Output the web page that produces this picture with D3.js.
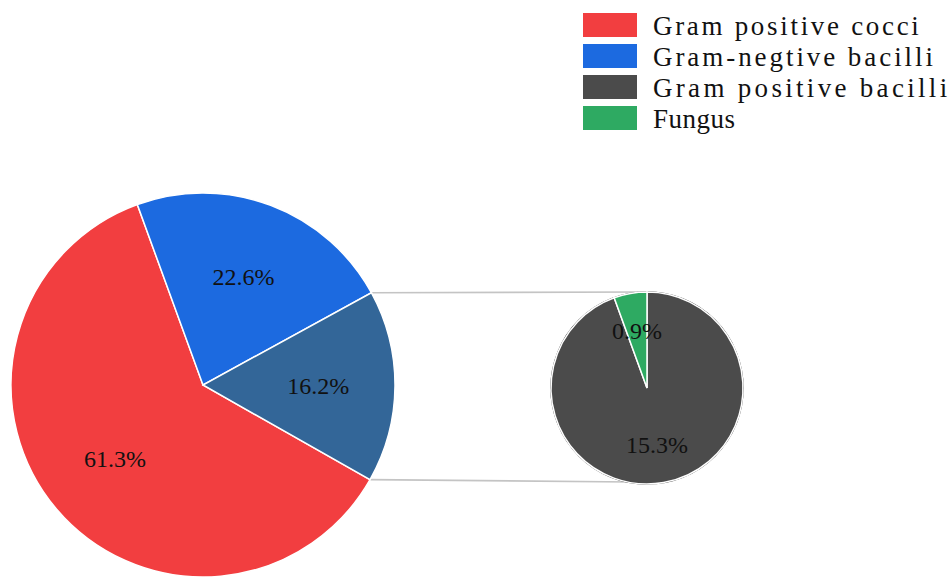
<!DOCTYPE html>
<html>
<head>
<meta charset="utf-8">
<script src="https://cdn.jsdelivr.net/npm/d3@7"></script>
<style>
  body { margin: 0; background: #fff; }
  svg { display: block; }
</style>
</head>
<body>
<script>
// main pie: categories + share (%)
var mainNames = ["Gram positive cocci", "Gram-negtive bacilli", "Gram positive bacilli"];
var mainValues = [61.3, 22.6, 16.2];
var mainColors = ["#f23e40", "#1c6ae0", "#336698"];

// breakdown of the 16.2% slice
var subNames = ["Gram positive bacilli", "Fungus"];
var subValues = [15.3, 0.9];
var subColors = ["#4b4b4b", "#2eaa62"];

// legend
var legendNames = ["Gram positive cocci", "Gram-negtive bacilli", "Gram positive bacilli", "Fungus"];
var legendColors = ["#f23e40", "#1c6ae0", "#4b4b4b", "#2eaa62"];

var width = 952, height = 577;
var deg = Math.PI / 180;
var fontFam = "Liberation Serif, Times New Roman, serif";

var svg = d3.select("body").append("svg")
    .attr("width", width)
    .attr("height", height);

// big pie
var R = 192;
var cx = 203, cy = 385;
var total = d3.sum(mainValues);
// red slice ends where blue starts, at -20deg
var start = -20 * deg - (mainValues[0] / total) * 2 * Math.PI;
var pie = d3.pie().sort(null).startAngle(start).endAngle(start + 2 * Math.PI);
var arc = d3.arc().innerRadius(0).outerRadius(R);
var labelArc = d3.arc().innerRadius(R * 0.6).outerRadius(R * 0.6);
var mainArcs = pie(mainValues);

// small pie
var r = 96;
var sx = 647, sy = 388;
var subPie = d3.pie().sort(null).startAngle(0).endAngle(2 * Math.PI);
var subArc = d3.arc().innerRadius(0).outerRadius(r);
var subLabelArc = d3.arc().innerRadius(r * 0.6).outerRadius(r * 0.6);
var subArcs = subPie(subValues);

// connector lines from the 16.2% slice edge to the small pie
var dark = mainArcs[2];
var edges = [dark.startAngle, dark.endAngle];
var ends = [[sx, sy - r], [sx - 16, sy + r - 2]];
svg.append("g")
    .selectAll("line")
    .data(edges)
    .enter().append("line")
    .attr("x1", function(a) { return cx + R * Math.sin(a); })
    .attr("y1", function(a) { return cy - R * Math.cos(a); })
    .attr("x2", function(a, i) { return ends[i][0]; })
    .attr("y2", function(a, i) { return ends[i][1]; })
    .attr("stroke", "#c4c4c4")
    .attr("stroke-width", 1.6);

var g = svg.append("g").attr("transform", "translate(" + cx + "," + cy + ")");
g.selectAll("path")
    .data(mainArcs)
    .enter().append("path")
    .attr("d", arc)
    .attr("fill", function(d, i) { return mainColors[i]; })
    .attr("stroke", "#fff")
    .attr("stroke-width", 1.5);

g.selectAll("text")
    .data(mainArcs)
    .enter().append("text")
    .attr("transform", function(d) { return "translate(" + labelArc.centroid(d) + ")"; })
    .attr("dy", "0.33em")
    .attr("text-anchor", "middle")
    .attr("font-family", fontFam)
    .attr("font-size", 24)
    .attr("fill", "#111")
    .text(function(d) { return d.data.toFixed(1) + "%"; });

var sg = svg.append("g").attr("transform", "translate(" + sx + "," + sy + ")");
sg.append("circle")
    .attr("r", r)
    .attr("fill", "none")
    .attr("stroke", "#2a2a2a")
    .attr("stroke-width", 1.5);
sg.selectAll("path")
    .data(subArcs)
    .enter().append("path")
    .attr("d", subArc)
    .attr("fill", function(d, i) { return subColors[i]; })
    .attr("stroke", "#fff")
    .attr("stroke-width", 1.5);

sg.selectAll("text")
    .data(subArcs)
    .enter().append("text")
    .attr("transform", function(d) { return "translate(" + subLabelArc.centroid(d) + ")"; })
    .attr("dy", "0.33em")
    .attr("text-anchor", "middle")
    .attr("font-family", fontFam)
    .attr("font-size", 24)
    .attr("fill", "#111")
    .text(function(d) { return d.data.toFixed(1) + "%"; });

// legend
var legend = svg.append("g").attr("transform", "translate(583,13)");
var rows = legend.selectAll("g")
    .data(legendNames)
    .enter().append("g")
    .attr("transform", function(d, i) { return "translate(0," + (i * 31) + ")"; });
rows.append("rect")
    .attr("width", 54)
    .attr("height", 24)
    .attr("fill", function(d, i) { return legendColors[i]; });
rows.append("text")
    .attr("x", 70)
    .attr("y", 22)
    .attr("font-family", fontFam)
    .attr("font-size", 27)
    .attr("fill", "#111")
    .attr("textLength", function(d) { return d.length * 14.15 - 3; })
    .attr("lengthAdjust", "spacing")
    .text(function(d) { return d; });
</script>
</body>
</html>
